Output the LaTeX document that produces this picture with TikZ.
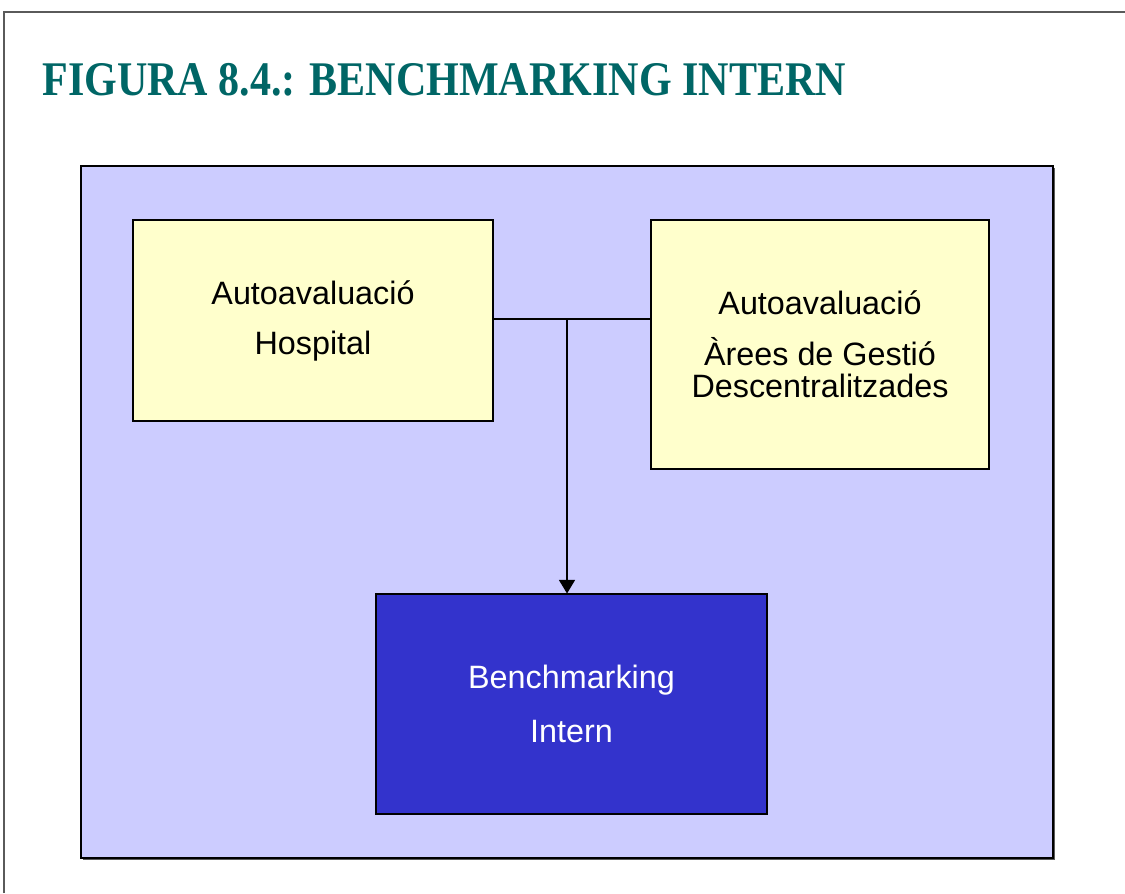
\documentclass[tikz,border=0pt]{standalone}
\usepackage{fontspec}
\setmainfont{Liberation Sans}
\newfontfamily\titlefont{Liberation Serif}
\definecolor{titleteal}{RGB}{0, 102, 102}
\definecolor{panelblue}{RGB}{204, 204, 255}
\definecolor{boxyellow}{RGB}{255, 255, 204}
\definecolor{deepblue}{RGB}{51, 51, 204}
\definecolor{framegray}{RGB}{90, 90, 90}
\usetikzlibrary{positioning, arrows.meta, calc, shadows}

\begin{document}
\begin{tikzpicture}[>={Triangle[width=0.32cm, length=0.27cm]},
    every node/.style={font=\fontsize{18.4}{16}\selectfont},
    selfbox/.style={draw, rectangle, fill=boxyellow, line width=0.6pt, align=center, inner sep=0pt},
    link/.style={draw, line width=0.6pt}]
    \useasboundingbox (0,0) rectangle (22.5,-17.86);

    % Page frame (only top and left edges show)
    \draw [framegray, line width=1.2pt] (0.08,-17.86) -- (0.08,-0.24) -- (22.5,-0.24);

    % Title
    \node [anchor=base west, inner sep=0pt, text=titleteal] (title) at (0.84,-1.9)
        {\scalebox{0.87}[1]{\titlefont\fontsize{27.5}{30}\selectfont\bfseries FIGURA 8.4.: BENCHMARKING INTERN}};

    % Background panel
    \node [draw, rectangle, fill=panelblue, line width=0.6pt, minimum width=19.44cm, minimum height=13.84cm,
        drop shadow={shadow xshift=0.04cm, shadow yshift=-0.04cm, fill=framegray, opacity=1}] (panel) at (11.34,-10.24) {};

    % Self-assessment boxes
    \node [selfbox, minimum width=7.2cm, minimum height=4.02cm] (hosp) at (6.26,-6.41)
        {Autoavaluació\\[0.44cm] Hospital};
    \node [selfbox, minimum width=6.76cm, minimum height=4.98cm] (areas) at (16.4,-6.89)
        {Autoavaluació\\[0.42cm] Àrees de Gestió\\[2pt] Descentralitzades};

    % Result box
    \node [selfbox, fill=deepblue, text=white, minimum width=7.82cm, minimum height=4.4cm] (bench) at (11.43,-14.08)
        {Benchmarking\\[0.46cm] Intern};

    % Connectors
    \coordinate (join) at (11.34,-6.38);
    \draw [link] (hosp.east |- join) -- (areas.west |- join);
    \draw [link, ->] (join) -- (join |- bench.north);
\end{tikzpicture}
\end{document}
